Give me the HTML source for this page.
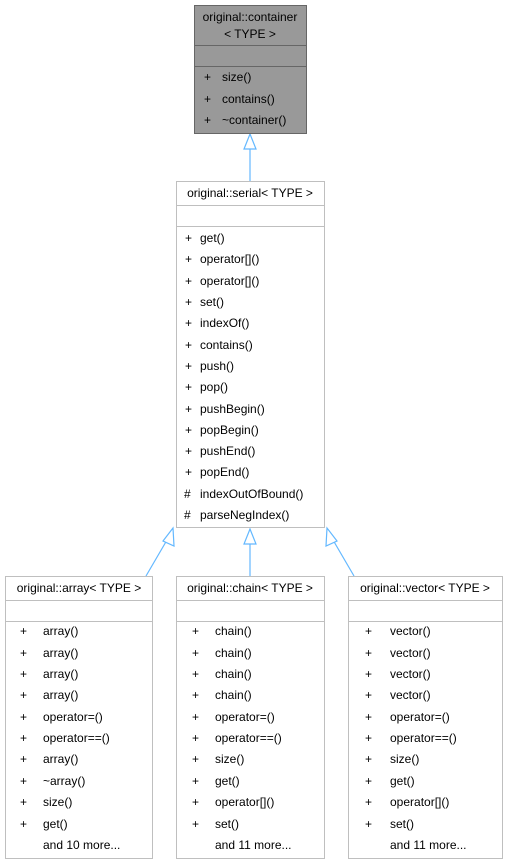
<!DOCTYPE html>
<html><head><meta charset="utf-8"><style>
html,body{margin:0;padding:0;background:#fff;}
svg{display:block;}
text{font-family:"Liberation Sans",Arial,sans-serif;font-size:12px;fill:#000;}
</style></head><body>
<svg width="508" height="864" viewBox="0 0 508 864" xmlns="http://www.w3.org/2000/svg">
<!-- connectors -->
<g stroke="#63b8ff" stroke-width="1.2" fill="#fff">
<line x1="250" y1="181" x2="250" y2="148"/>
<polygon points="250,134 244,149 256,149"/>
<line x1="146" y1="576" x2="167" y2="540"/>
<polygon points="173,528 163,541 174,546"/>
<line x1="250" y1="576" x2="250" y2="543"/>
<polygon points="250,529 244,544 256,544"/>
<line x1="354" y1="576" x2="333" y2="540"/>
<polygon points="327,528 326,546 337,541"/>
</g>
<!-- container -->
<g stroke="#666" stroke-width="1" fill="#999">
<rect x="194.5" y="5.5" width="112" height="128"/>
<line x1="194.5" y1="45.5" x2="306.5" y2="45.5"/>
<line x1="194.5" y1="66.5" x2="306.5" y2="66.5"/>
</g>
<text x="250" y="21" text-anchor="middle">original::container</text>
<text x="250" y="38" text-anchor="middle">&lt; TYPE &gt;</text>
<text x="204" y="81">+</text><text x="222" y="81">size()</text>
<text x="204" y="103">+</text><text x="222" y="103">contains()</text>
<text x="204" y="124">+</text><text x="222" y="124">~container()</text>
<!-- boxes -->
<g stroke="#bfbfbf" stroke-width="1" fill="#fff">
<rect x="176.5" y="181.5" width="148" height="346"/>
<line x1="176.5" y1="205.5" x2="324.5" y2="205.5"/>
<line x1="176.5" y1="226.5" x2="324.5" y2="226.5"/>
<rect x="5.5" y="576.5" width="147" height="282"/>
<line x1="5.5" y1="600.5" x2="152.5" y2="600.5"/>
<line x1="5.5" y1="621.5" x2="152.5" y2="621.5"/>
<rect x="176.5" y="576.5" width="148" height="282"/>
<line x1="176.5" y1="600.5" x2="324.5" y2="600.5"/>
<line x1="176.5" y1="621.5" x2="324.5" y2="621.5"/>
<rect x="348.5" y="576.5" width="154" height="282"/>
<line x1="348.5" y1="600.5" x2="502.5" y2="600.5"/>
<line x1="348.5" y1="621.5" x2="502.5" y2="621.5"/>
</g>
<!-- serial -->
<text x="250" y="197" text-anchor="middle">original::serial&lt; TYPE &gt;</text>
<g>
<text x="185" y="242">+</text><text x="200" y="242">get()</text>
<text x="185" y="263">+</text><text x="200" y="263">operator[]()</text>
<text x="185" y="285">+</text><text x="200" y="285">operator[]()</text>
<text x="185" y="306">+</text><text x="200" y="306">set()</text>
<text x="185" y="327">+</text><text x="200" y="327">indexOf()</text>
<text x="185" y="349">+</text><text x="200" y="349">contains()</text>
<text x="185" y="370">+</text><text x="200" y="370">push()</text>
<text x="185" y="391">+</text><text x="200" y="391">pop()</text>
<text x="185" y="413">+</text><text x="200" y="413">pushBegin()</text>
<text x="185" y="434">+</text><text x="200" y="434">popBegin()</text>
<text x="185" y="455">+</text><text x="200" y="455">pushEnd()</text>
<text x="185" y="476">+</text><text x="200" y="476">popEnd()</text>
<text x="184" y="498">#</text><text x="200" y="498">indexOutOfBound()</text>
<text x="184" y="519">#</text><text x="200" y="519">parseNegIndex()</text>
</g>
<!-- array -->
<text x="79" y="592" text-anchor="middle">original::array&lt; TYPE &gt;</text>
<g>
<text x="20" y="635">+</text><text x="43" y="635">array()</text>
<text x="20" y="657">+</text><text x="43" y="657">array()</text>
<text x="20" y="678">+</text><text x="43" y="678">array()</text>
<text x="20" y="699">+</text><text x="43" y="699">array()</text>
<text x="20" y="721">+</text><text x="43" y="721">operator=()</text>
<text x="20" y="742">+</text><text x="43" y="742">operator==()</text>
<text x="20" y="763">+</text><text x="43" y="763">array()</text>
<text x="20" y="785">+</text><text x="43" y="785">~array()</text>
<text x="20" y="806">+</text><text x="43" y="806">size()</text>
<text x="20" y="828">+</text><text x="43" y="828">get()</text>
<text x="43" y="849">and 10 more...</text>
</g>
<!-- chain -->
<text x="250" y="592" text-anchor="middle">original::chain&lt; TYPE &gt;</text>
<g>
<text x="192" y="635">+</text><text x="215" y="635">chain()</text>
<text x="192" y="657">+</text><text x="215" y="657">chain()</text>
<text x="192" y="678">+</text><text x="215" y="678">chain()</text>
<text x="192" y="699">+</text><text x="215" y="699">chain()</text>
<text x="192" y="721">+</text><text x="215" y="721">operator=()</text>
<text x="192" y="742">+</text><text x="215" y="742">operator==()</text>
<text x="192" y="763">+</text><text x="215" y="763">size()</text>
<text x="192" y="785">+</text><text x="215" y="785">get()</text>
<text x="192" y="806">+</text><text x="215" y="806">operator[]()</text>
<text x="192" y="828">+</text><text x="215" y="828">set()</text>
<text x="215" y="849">and 11 more...</text>
</g>
<!-- vector -->
<text x="425" y="592" text-anchor="middle">original::vector&lt; TYPE &gt;</text>
<g>
<text x="365" y="635">+</text><text x="390" y="635">vector()</text>
<text x="365" y="657">+</text><text x="390" y="657">vector()</text>
<text x="365" y="678">+</text><text x="390" y="678">vector()</text>
<text x="365" y="699">+</text><text x="390" y="699">vector()</text>
<text x="365" y="721">+</text><text x="390" y="721">operator=()</text>
<text x="365" y="742">+</text><text x="390" y="742">operator==()</text>
<text x="365" y="763">+</text><text x="390" y="763">size()</text>
<text x="365" y="785">+</text><text x="390" y="785">get()</text>
<text x="365" y="806">+</text><text x="390" y="806">operator[]()</text>
<text x="365" y="828">+</text><text x="390" y="828">set()</text>
<text x="390" y="849">and 11 more...</text>
</g>
</svg>
</body></html>
